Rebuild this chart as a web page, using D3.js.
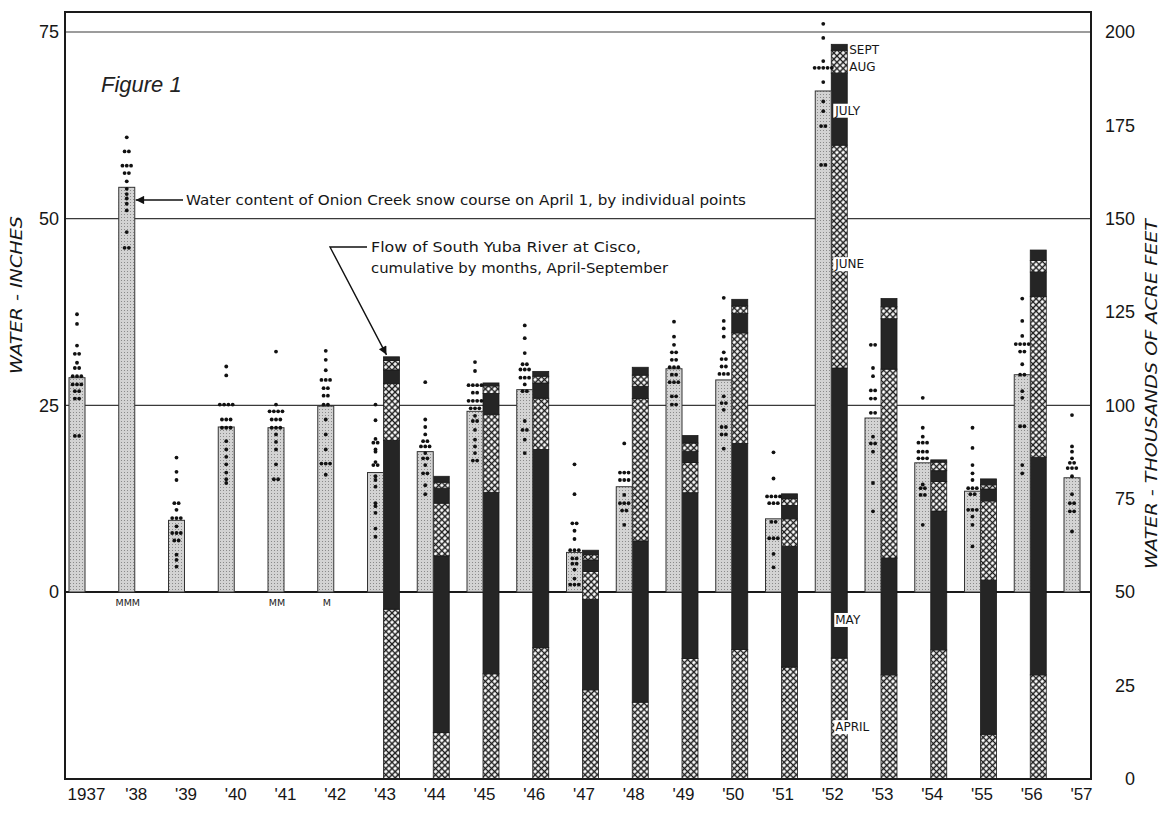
<!DOCTYPE html>
<html lang="en">
<head>
<meta charset="UTF-8">
<title>Onion Creek snow course and South Yuba River flow, 1937-1957</title>
<script src="https://d3js.org/d3.v7.min.js"></script>
<style>
  body { margin: 0; background: #fff; }
  svg { display: block; font-family: "DejaVu Sans", sans-serif; }
  .axis text { fill: #161616; font-size: 18px; }
  .note { fill: #161616; font-size: 14px; }
  .month { fill: #161616; font-size: 12px; }
</style>
</head>
<body>
<div id="chart"></div>
<script>
// years and their tick labels
const years = [1937, 1938, 1939, 1940, 1941, 1942, 1943, 1944, 1945, 1946, 1947,
               1948, 1949, 1950, 1951, 1952, 1953, 1954, 1955, 1956, 1957];
const yearLabels = ["1937", "'38", "'39", "'40", "'41", "'42", "'43", "'44", "'45", "'46", "'47",
                    "'48", "'49", "'50", "'51", "'52", "'53", "'54", "'55", "'56", "'57"];

// April 1 water content of the snow course (inches)
const snowInches = [28.7, 54.2, 9.6, 22.1, 22.0, 24.9, 16.0, 18.8, 24.2, 27.1, 5.3,
                    14.1, 29.9, 28.4, 9.8, 67.1, 23.3, 17.3, 13.5, 29.1, 15.3];

// individual snow course points (inches), one list per year
const snowPoints = [
  [37.2, 35.9, 33, 31.9, 31.9, 30.7, 30, 30, 28.9, 28.9, 28.9, 27.8, 27.8, 27.8, 26.9, 26.9, 25.9, 25.9, 20.9, 20.9],
  [60.9, 59, 59, 57.1, 57.1, 57.1, 56.1, 56.1, 55, 54, 53.3, 52.7, 52, 51.1, 48.2, 46.1, 46.1],
  [18, 16.1, 15, 11.9, 11.9, 11, 9.9, 9.9, 9.9, 8.8, 7.9, 7.9, 7.9, 6.9, 6.9, 5, 4.3, 3.4],
  [30.2, 29, 25.1, 25.1, 25.1, 25.1, 23.1, 23.1, 23.1, 22, 22, 22, 20.2, 19.1, 18.1, 17.1, 16, 15.1, 14.6],
  [32.2, 25.1, 24.2, 24.2, 24.2, 24.2, 23.1, 23.1, 23.1, 22, 22, 22, 21.1, 20.1, 19.1, 17.1, 15.1, 15.1],
  [32.3, 31.1, 29.7, 28.4, 28.4, 28.4, 27.3, 27.3, 26.3, 26.3, 25.1, 25.1, 23.1, 21.1, 19.1, 17.2, 17.2, 17.2, 15.7],
  [25.1, 23, 20.5, 20, 20, 19.1, 18.8, 17.4, 17, 17, 15.5, 15, 14.1, 11.9, 11.5, 10.6, 8.5, 7.4],
  [28.1, 23.1, 22.1, 21.1, 20.2, 20.2, 19.5, 19.5, 19.5, 18.6, 17.9, 17.9, 17, 15.9, 15.9, 14.3, 13.1],
  [30.8, 29.6, 27.7, 27.7, 27.7, 27.7, 26.7, 26.7, 25.6, 25.6, 25.6, 25.6, 24.6, 24.6, 24.6, 23.6, 22.9, 22.9, 21.7, 20.4, 19.5, 18.6, 17.6, 17.6],
  [35.7, 34, 32, 30.5, 30.5, 29.8, 29.8, 29.8, 28.7, 28.7, 28.7, 27.8, 26.9, 26.9, 22.9, 21.7, 21.7, 20.4, 18.6],
  [17.1, 13.1, 9.2, 9.2, 8.2, 7.1, 5.6, 5.6, 5.6, 4.5, 4.5, 3.8, 3.8, 3, 1.8, 1, 1, 1],
  [19.9, 16, 16, 16, 15, 15, 15, 13, 11.9, 11.9, 11.9, 10.9, 10.9, 9],
  [36.2, 34.2, 33.1, 32.1, 32.1, 31.1, 31.1, 30.1, 30.1, 30.1, 29.1, 29.1, 28.1, 28.1, 28.1, 26.2, 26.2, 25.1, 25.1],
  [39.4, 36.3, 35.3, 34.2, 32.1, 31.2, 31.2, 30.2, 30.2, 29.2, 29.2, 29.2, 26.2, 25.3, 25.3, 24.4, 22.1, 22.1, 21.1, 21.1, 19.2],
  [18.7, 15.2, 12.8, 12.8, 12.8, 12.8, 11.9, 11.9, 11.9, 9.4, 9.4, 7.2, 7.2, 7.2, 5.1, 3.3],
  [76.1, 74.2, 71.1, 70.2, 70.2, 70.2, 70.2, 70.2, 68.3, 65.7, 64.4, 62.4, 62.4, 57.2, 57.2],
  [33.1, 33.1, 30, 28.9, 27, 27, 25.9, 25.9, 24, 24, 20.8, 19.9, 19.9, 18.8, 14.6, 10.8],
  [26, 22, 20.8, 20, 20, 20, 18.8, 18.8, 18.8, 17.9, 17.9, 17.9, 14.4, 13.9, 13.9, 13, 13, 9],
  [22, 19.3, 17, 15.9, 15, 13.9, 13.9, 13.9, 13.1, 13.1, 11, 11, 11, 10.1, 9, 6.1],
  [39.3, 36.3, 34.3, 33.2, 33.2, 33.2, 33.2, 32.2, 32.2, 30.5, 29.1, 29.1, 26.9, 26, 22.2, 22.2, 17, 15.9],
  [23.7, 19.5, 18.8, 17.9, 17.3, 17.3, 16.6, 16.6, 16.6, 15.5, 13.1, 11.9, 11.9, 10.8, 10.8, 8.1]
];

// missing-point marks under the baseline
const missingYears = [1938, 1941, 1942];
const missingText = ["MMM", "MM", "M"];

// South Yuba River at Cisco, cumulative flow (thousands of acre feet)
const flowYears = [1943, 1944, 1945, 1946, 1947, 1948, 1949, 1950, 1951, 1952, 1953, 1954, 1955, 1956];
const cumApr  = [45.4, 12.4, 28.1, 35.1, 23.8, 20.5, 32.2, 34.6, 29.9, 32.3, 27.8, 34.5, 11.9, 27.8];
const cumMay  = [90.6, 59.7, 76.7, 88.2, 48.0, 63.7, 76.6, 89.8, 62.2, 110.0, 59.1, 71.7, 53.2, 86.1];
const cumJun  = [105.9, 73.8, 97.6, 101.9, 55.5, 101.8, 84.7, 119.4, 69.6, 169.7, 109.7, 79.6, 74.4, 129.2];
const cumJul  = [109.5, 77.8, 103.2, 106.0, 58.6, 105.1, 87.7, 124.6, 73.2, 189.0, 123.2, 82.5, 77.6, 135.7];
const cumAug  = [112.0, 79.4, 105.2, 107.8, 60.0, 108.1, 89.9, 126.6, 75.0, 195.1, 126.4, 84.8, 78.7, 138.8];
const cumSep  = [113.0, 81.0, 106.0, 109.1, 61.2, 110.2, 91.9, 128.4, 76.3, 196.7, 128.6, 85.4, 80.3, 141.6];

const months = ["APRIL", "MAY", "JUNE", "JULY", "AUG", "SEPT"];
// where the month names sit beside the 1952 bar (thousand acre feet)
const monthLabelAt = [13.9, 42.6, 137.9, 179, 190.7, 195.2];
const monthLabelBoxed = [true, true, true, true, false, false];

const width = 1167, height = 814;
const plot = {left: 65, right: 1091, top: 12, bottom: 779};

const svg = d3.select("#chart").append("svg")
    .attr("width", width)
    .attr("height", height);

// patterns
const defs = svg.append("defs");
const stip = defs.append("pattern").attr("id", "stipple")
    .attr("patternUnits", "userSpaceOnUse").attr("width", 3).attr("height", 3);
stip.append("rect").attr("width", 3).attr("height", 3).attr("fill", "#d3d3d3");
stip.append("rect").attr("x", 1).attr("y", 1).attr("width", 1).attr("height", 1).attr("fill", "#8a8a8a");

const hatch = defs.append("pattern").attr("id", "hatch")
    .attr("patternUnits", "userSpaceOnUse").attr("width", 4.4).attr("height", 4.4)
    .attr("patternTransform", "rotate(45)");
hatch.append("rect").attr("width", 4.4).attr("height", 4.4).attr("fill", "#fff");
hatch.append("path").attr("d", "M0,2.2H4.4M2.2,0V4.4")
    .attr("stroke", "#1c1c1c").attr("stroke-width", 1.5);

defs.append("marker").attr("id", "arrow")
    .attr("viewBox", "0 0 10 10").attr("refX", 10).attr("refY", 5)
    .attr("markerWidth", 9).attr("markerHeight", 6).attr("orient", "auto")
    .append("path").attr("d", "M0,0L10,5L0,10z").attr("fill", "#111");

// scales
const x = d3.scalePoint().domain(years).range([85, 1080]);
const barW = 16;
const yL = d3.scaleLinear().domain([0, 75]).range([592, 32]);
const yR = d3.scaleLinear().domain([0, 200]).range([778.7, 32]);

// gridlines
svg.append("g").selectAll("line")
    .data([25, 50, 75])
    .join("line")
    .attr("x1", plot.left).attr("x2", plot.right)
    .attr("y1", d => yL(d)).attr("y2", d => yL(d))
    .attr("stroke", "#3a3a3a").attr("stroke-width", 1.2);

svg.append("line")
    .attr("x1", plot.left).attr("x2", plot.right)
    .attr("y1", yL(0)).attr("y2", yL(0))
    .attr("stroke", "#1a1a1a").attr("stroke-width", 2.2);

// flow bars, stacked cumulatively by month
const flowSegs = [];
flowYears.forEach((yr, i) => {
  const cum = [0, cumApr[i], cumMay[i], cumJun[i], cumJul[i], cumAug[i], cumSep[i]];
  for (let m = 0; m < 6; m++) {
    flowSegs.push({year: yr, month: m, lo: cum[m], hi: cum[m + 1]});
  }
});

svg.append("g").selectAll("rect")
    .data(flowSegs)
    .join("rect")
    .attr("x", d => x(d.year))
    .attr("y", d => yR(d.hi))
    .attr("width", barW)
    .attr("height", d => yR(d.lo) - yR(d.hi))
    .attr("fill", d => d.month % 2 === 0 ? "url(#hatch)" : "#252525")
    .attr("stroke", "#1a1a1a").attr("stroke-width", 0.8);

// snow course bars
const snow = years.map((yr, i) => ({year: yr, v: snowInches[i], pts: snowPoints[i]}));

svg.append("g").selectAll("rect")
    .data(snow)
    .join("rect")
    .attr("x", d => x(d.year) - barW)
    .attr("y", d => yL(d.v))
    .attr("width", barW)
    .attr("height", d => yL(0) - yL(d.v))
    .attr("fill", "url(#stipple)")
    .attr("stroke", "#333").attr("stroke-width", 1);

// individual points: equal readings side by side
const dots = [];
snow.forEach(s => {
  const groups = [];
  s.pts.forEach(v => {
    const g = groups.find(g => Math.abs(g.v - v) < 0.25);
    if (g) g.n++; else groups.push({v: v, n: 1});
  });
  groups.forEach(g => {
    for (let k = 0; k < g.n; k++) {
      dots.push({year: s.year, v: g.v, off: (k - (g.n - 1) / 2) * 4.3});
    }
  });
});

svg.append("g").selectAll("circle")
    .data(dots)
    .join("circle")
    .attr("cx", d => x(d.year) - barW / 2 + d.off)
    .attr("cy", d => yL(d.v))
    .attr("r", 1.9)
    .attr("fill", "#111");

// M marks
svg.append("g").selectAll("text")
    .data(missingYears)
    .join("text")
    .attr("x", d => x(d) - barW / 2 + 1)
    .attr("y", yL(0) + 14)
    .attr("text-anchor", "middle")
    .attr("font-size", 9.5)
    .style("fill", "#222")
    .text((d, i) => missingText[i]);

// month names on the 1952 bar
const mg = svg.append("g");
months.forEach((m, i) => {
  const boxed = monthLabelBoxed[i];
  const tx = boxed ? x(1952) + 4 : x(1952) + barW + 2;
  const ty = yR(monthLabelAt[i]);
  const t = mg.append("text").attr("class", "month")
      .attr("x", tx).attr("y", ty).attr("dy", "0.36em").text(m);
  if (boxed) {
    const bb = t.node().getBBox();
    mg.insert("rect", "text")
        .attr("x", bb.x - 1).attr("y", bb.y)
        .attr("width", bb.width + 2).attr("height", bb.height)
        .attr("fill", "#fff");
  }
});

// axes
const axL = svg.append("g").attr("class", "axis")
    .attr("transform", `translate(${plot.left},0)`)
    .call(d3.axisLeft(yL).tickValues([0, 25, 50, 75]).tickSize(0).tickPadding(6));
axL.select(".domain").remove();

const axR = svg.append("g").attr("class", "axis")
    .attr("transform", `translate(${plot.right},0)`)
    .call(d3.axisRight(yR).tickValues([0, 25, 50, 75, 100, 125, 150, 175, 200]).tickSize(0));
axR.select(".domain").remove();
axR.selectAll("text").attr("x", 44).attr("text-anchor", "end");

const axB = svg.append("g").attr("class", "axis")
    .attr("transform", `translate(0,${plot.bottom})`)
    .call(d3.axisBottom(x).tickSize(0).tickPadding(9).tickFormat((d, i) => yearLabels[i]));
axB.select(".domain").remove();
axB.selectAll("text").attr("x", 1).style("font-size", "17px");

// frame
svg.append("rect")
    .attr("x", plot.left).attr("y", plot.top)
    .attr("width", plot.right - plot.left).attr("height", plot.bottom - plot.top)
    .attr("fill", "none").attr("stroke", "#1a1a1a").attr("stroke-width", 2);

// axis titles
svg.append("text")
    .attr("transform", "translate(22,295) rotate(-90)")
    .attr("text-anchor", "middle")
    .attr("font-size", 15.5).attr("font-style", "italic").attr("fill", "#161616")
    .attr("textLength", 158).attr("lengthAdjust", "spacingAndGlyphs")
    .text("WATER - INCHES");

svg.append("text")
    .attr("transform", "translate(1157,394) rotate(-90)")
    .attr("text-anchor", "middle")
    .attr("font-size", 16).attr("font-style", "italic").attr("fill", "#161616")
    .attr("textLength", 350).attr("lengthAdjust", "spacingAndGlyphs")
    .text("WATER - THOUSANDS OF ACRE FEET");

// figure caption
svg.append("text")
    .attr("x", 101).attr("y", 92)
    .attr("font-size", 22).attr("font-style", "italic").attr("fill", "#222")
    .attr("font-family", "Liberation Sans, sans-serif")
    .text("Figure 1");

// snow course note with arrow
const noteY = 200;
svg.append("text").attr("class", "note")
    .attr("x", 186).attr("y", noteY).attr("dy", "0.36em")
    .attr("textLength", 560).attr("lengthAdjust", "spacingAndGlyphs")
    .text("Water content of Onion Creek snow course on April 1, by individual points");
svg.append("line")
    .attr("x1", 183).attr("y1", noteY)
    .attr("x2", x(1938) + 1).attr("y2", noteY)
    .attr("stroke", "#111").attr("stroke-width", 1.4)
    .attr("marker-end", "url(#arrow)");

// flow note with leader
svg.append("text").attr("class", "note")
    .attr("x", 371).attr("y", 247).attr("dy", "0.36em")
    .attr("textLength", 270).attr("lengthAdjust", "spacingAndGlyphs")
    .text("Flow of South Yuba River at Cisco,");
svg.append("text").attr("class", "note")
    .attr("x", 371).attr("y", 268).attr("dy", "0.36em")
    .attr("textLength", 297).attr("lengthAdjust", "spacingAndGlyphs")
    .text("cumulative by months, April-September");
svg.append("path")
    .attr("d", `M367,247H330L${x(1943) + 3},${yR(cumSep[0]) - 2}`)
    .attr("fill", "none")
    .attr("stroke", "#111").attr("stroke-width", 1.4)
    .attr("marker-end", "url(#arrow)");
</script>
</body>
</html>
